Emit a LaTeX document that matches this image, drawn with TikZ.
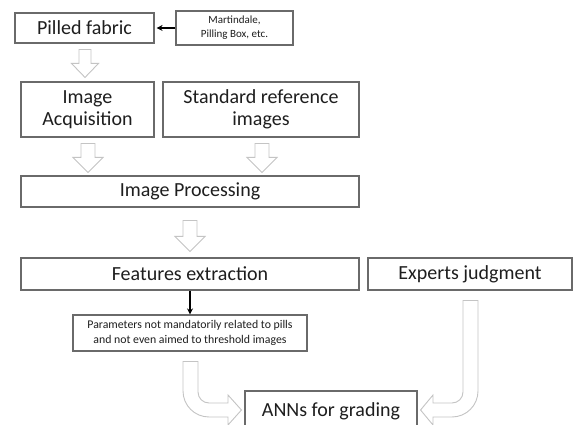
\documentclass[tikz,border=0pt]{standalone}
\usepackage{fontspec}
\setmainfont{Carlito}
\usetikzlibrary{calc,arrows.meta}

\definecolor{boxline}{HTML}{6A6A6A}
\definecolor{hollowline}{HTML}{C4C4C4}
\definecolor{ink}{HTML}{1E1E1E}

\tikzset{
  box/.style={draw=boxline, line width=1.1pt, fill=white, inner sep=0pt,
    align=center, text=ink, font=\fontsize{20}{22}\selectfont},
  smallbox/.style={box, font=\fontsize{11}{14}\selectfont},
  notebox/.style={box, font=\fontsize{11.8}{15.5}\selectfont},
  hollow/.style={draw=hollowline, line width=0.9pt, fill=white, line join=miter},
  thin arrow/.style={draw=black, line width=1.1pt, -{Stealth[length=6pt,width=6pt]}},
}

% hollow block arrow pointing down: #1 source node, #2 target node, #3 x,
% #4 gap below source, #5 gap above target, #6 shaft half width,
% #7 head half width, #8 head length
\newcommand\blockdown[8]{%
  \draw[hollow] let \p1=(#1.south), \p2=(#2.north),
      \n1={\y1-#4}, \n2={\y2+#5}, \n3={\y2+#5+#8} in
    (#3-#6,\n1) -- (#3+#6,\n1) -- (#3+#6,\n3) -- (#3+#7,\n3)
    -- (#3,\n2) -- (#3-#7,\n3) -- (#3-#6,\n3) -- cycle;
}

\begin{document}
\begin{tikzpicture}[x=1pt,y=1pt]
\clip (0,0) rectangle (575,425);
\fill[white] (0,0) rectangle (575,425);

% boxes
\node[box, minimum width=139pt, minimum height=30pt] (pilled) at (84.5,397) {Pilled fabric};
\node[smallbox, minimum width=117pt, minimum height=34pt] (mart) at (234.5,397) {Martindale,\\Pilling Box, etc.};
\node[box, minimum width=133pt, minimum height=55pt] (acq) at (87.5,315.5) {Image\\Acquisition};
\node[box, minimum width=196pt, minimum height=55pt] (std) at (261,315.5) {Standard reference\\images};
\node[box, minimum width=338pt, minimum height=31pt] (proc) at (190,233.5) {Image Processing};
\node[box, minimum width=338pt, minimum height=32pt] (feat) at (190,151) {Features extraction};
\node[box, minimum width=204pt, minimum height=32pt] (exp) at (470,151) {Experts judgment};
\node[notebox, minimum width=234pt, minimum height=36pt] (params) at (190,92)
  {Parameters not mandatorily related to pills\\and not even aimed to threshold images};
\node[box, minimum width=172pt, minimum height=40pt] (anns) at (331,14) {};
\node[text=ink, font=\fontsize{20}{22}\selectfont] (annstext) at (331,14) {ANNs for grading};

% thin black connectors
\draw[thin arrow] (mart.west) -- ([xshift=2pt]pilled.east);
\draw[thin arrow] (feat.south) -- (params.north);

% hollow block arrows downwards
\blockdown{pilled}{acq}{85}{6}{4}{6}{13.5}{14}
\blockdown{acq}{proc}{88}{6}{3}{7}{15}{15}
\blockdown{std}{proc}{262}{6}{3}{7}{15}{15}
\blockdown{proc}{feat}{190}{13}{6}{7}{15}{15}

% bent hollow arrow from the parameters box into the ANN box
\draw[hollow] let \p1=(params.south), \p2=(anns.west) in
  (183,\y1-10) -- (198,\y1-10) -- (198,\y2+19)
  arc[start angle=180, end angle=270, radius=11] -- (228,\y2+8)
  -- (228,\y2+16) -- (\x2-3,\y2+1) -- (228,\y2-14) -- (228,\y2-6)
  -- (209,\y2-6) arc[start angle=270, end angle=180, radius=26] -- cycle;

% bent hollow arrow from the experts box into the ANN box
\draw[hollow] let \p1=(exp.south), \p2=(anns.east) in
  (478,\y1-10) -- (463,\y1-10) -- (463,\y2+19)
  arc[start angle=0, end angle=-90, radius=11] -- (433,\y2+8)
  -- (433,\y2+16) -- (\x2+3,\y2+1) -- (433,\y2-14) -- (433,\y2-6)
  -- (452,\y2-6) arc[start angle=270, end angle=360, radius=26] -- cycle;
\end{tikzpicture}
\end{document}
